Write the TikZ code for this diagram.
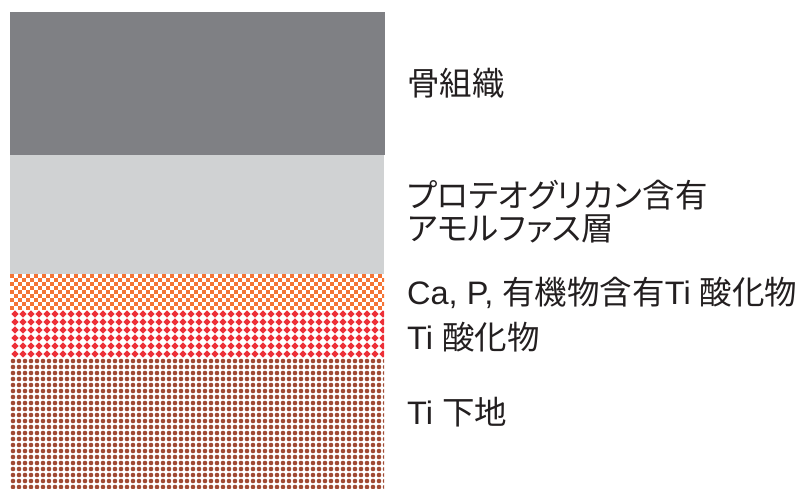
\documentclass[tikz,border=0pt]{standalone}
\usepackage{fontspec}
\setmainfont{Liberation Sans}
\newfontfamily\jp{Noto Sans CJK JP}
\newfontfamily\jpp[RawFeature=+palt]{Noto Sans CJK JP}
\definecolor{bonegray}{HTML}{7F8084}
\definecolor{amgray}{HTML}{D0D2D3}
\definecolor{orng}{HTML}{F47435}
\definecolor{redd}{HTML}{ED3038}
\definecolor{brwn}{HTML}{A04A33}
\definecolor{txt}{HTML}{231F20}
\begin{document}
\begin{tikzpicture}[x=1pt,y=-1pt,
  lbl/.style={anchor=west, inner sep=0pt, align=left, text=txt,
    font=\fontsize{32.5}{32}\selectfont},
  lbljp/.style={lbl, font=\jp\fontsize{32.5}{33}\selectfont},
  lbljpp/.style={lbl, font=\jpp\fontsize{32.5}{33}\selectfont}]
\useasboundingbox (0,0) rectangle (806,488);
% layers
\fill[bonegray] (10,12) rectangle (385,155);
\fill[amgray] (10,155) rectangle (384,274);
\begin{scope}
  \clip (10,274) rectangle (384,310);
  \foreach \j in {0,...,8} {
    \pgfmathtruncatemacro\off{mod(\j,2)}
    \foreach \i in {0,...,47}
      \fill[orng] (10+4*\off+8*\i, 274+4*\j) rectangle ++(4,4);
  }
\end{scope}
\begin{scope}
  \clip (10,310) rectangle (384,358);
  \foreach \j in {0,...,5}
    \foreach \i in {0,...,47}
      \fill[redd] (15+8*\i-3.6, 314+8*\j) -- ++(3.6,-3.6) -- ++(3.6,3.6) -- ++(-3.6,3.6) -- cycle;
\end{scope}
\begin{scope}
  \clip (10,358) rectangle (384,488);
  \foreach \j in {0,...,21}
    \foreach \i in {0,...,62}
      \fill[brwn] (13+6*\i, 361+6*\j) circle (2.3);
\end{scope}
% labels
\node[lbljp] (bone) at (407,83) {骨組織};
\node[lbljpp] (amorph) at (407,212) {プロテオグリカン含有\\アモルファス層};
\node[lbl] (caoxide) at (407,293) {Ca, P, {\jp 有機物含有}Ti {\jp 酸化物}};
\node[lbl] (tioxide) at (407,337) {Ti {\jp 酸化物}};
\node[lbl] (tibase) at (407,412) {Ti {\jp 下地}};
\end{tikzpicture}
\end{document}
